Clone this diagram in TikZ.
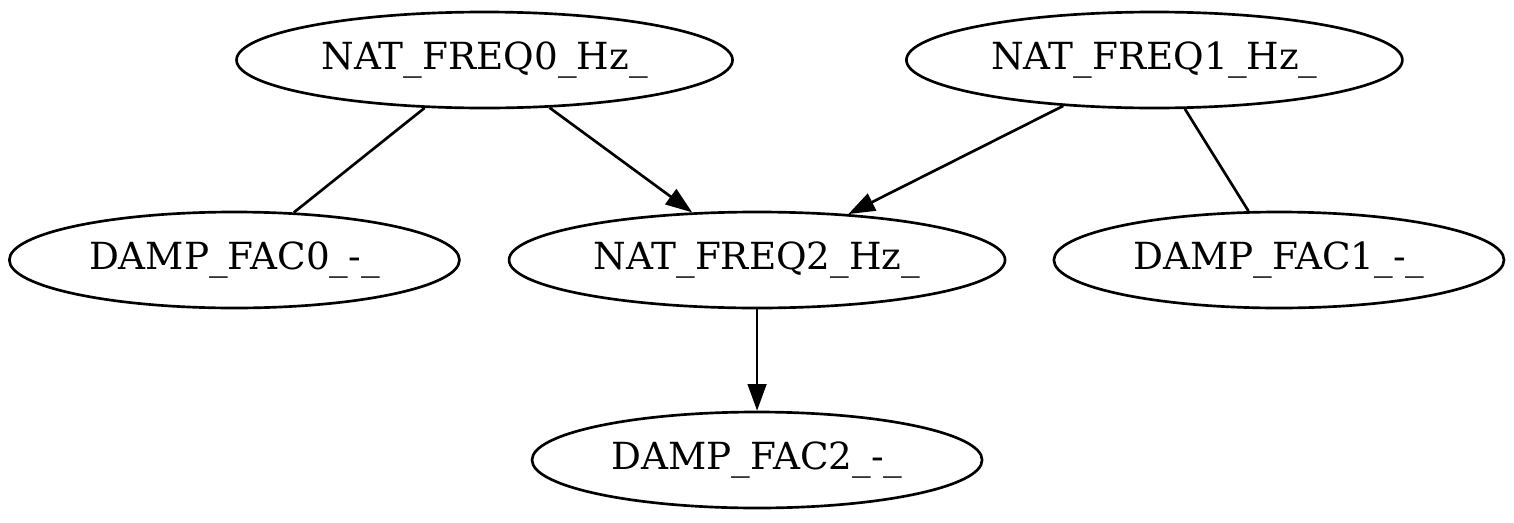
\documentclass[tikz,border=0pt]{standalone}
\usepackage{fontspec}
\setmainfont{DejaVu Serif}
\usepackage{tikz}
\usetikzlibrary{arrows.meta,shapes.geometric}
\tikzset{
  gv diagram/.style={x=1pt, y=1pt, font=\fontsize{14pt}{16pt}\selectfont,
    line join=round},
  gv node/.style={draw, ellipse, line width=1pt, inner sep=0pt,
    minimum height=36pt},
  gv nat/.style={gv node, minimum width=186pt},
  gv damp/.style={gv node, minimum width=168.8pt},
  gv link/.style={draw, line width=1pt},
  gv arrow/.style={gv link, -{Triangle[length=10pt,width=7pt]}}
}
\begin{document}
\begin{tikzpicture}[gv diagram]
\useasboundingbox (0,0) rectangle (567.75,-195.75);
\node[gv nat] (freq0) at (181.7,-22.5) {NAT\_FREQ0\_Hz\_};
\node[gv nat] (freq1) at (432.9,-22.5) {NAT\_FREQ1\_Hz\_};
\node[gv damp] (damp0) at (87.9,-97.5) {DAMP\_FAC0\_-\_};
\node[gv nat] (freq2) at (283.9,-97.5) {NAT\_FREQ2\_Hz\_};
\node[gv damp] (damp1) at (479.6,-97.5) {DAMP\_FAC1\_-\_};
\node[gv damp] (damp2) at (283.9,-172.5) {DAMP\_FAC2\_-\_};
\draw[gv link] (freq0) -- (damp0);
\draw[gv link] (freq1) -- (damp1);
\foreach \from/\to in {freq0/freq2,freq1/freq2,freq2/damp2}{
  \draw[gv arrow] (\from) -- (\to);
}
\end{tikzpicture}
\end{document}
